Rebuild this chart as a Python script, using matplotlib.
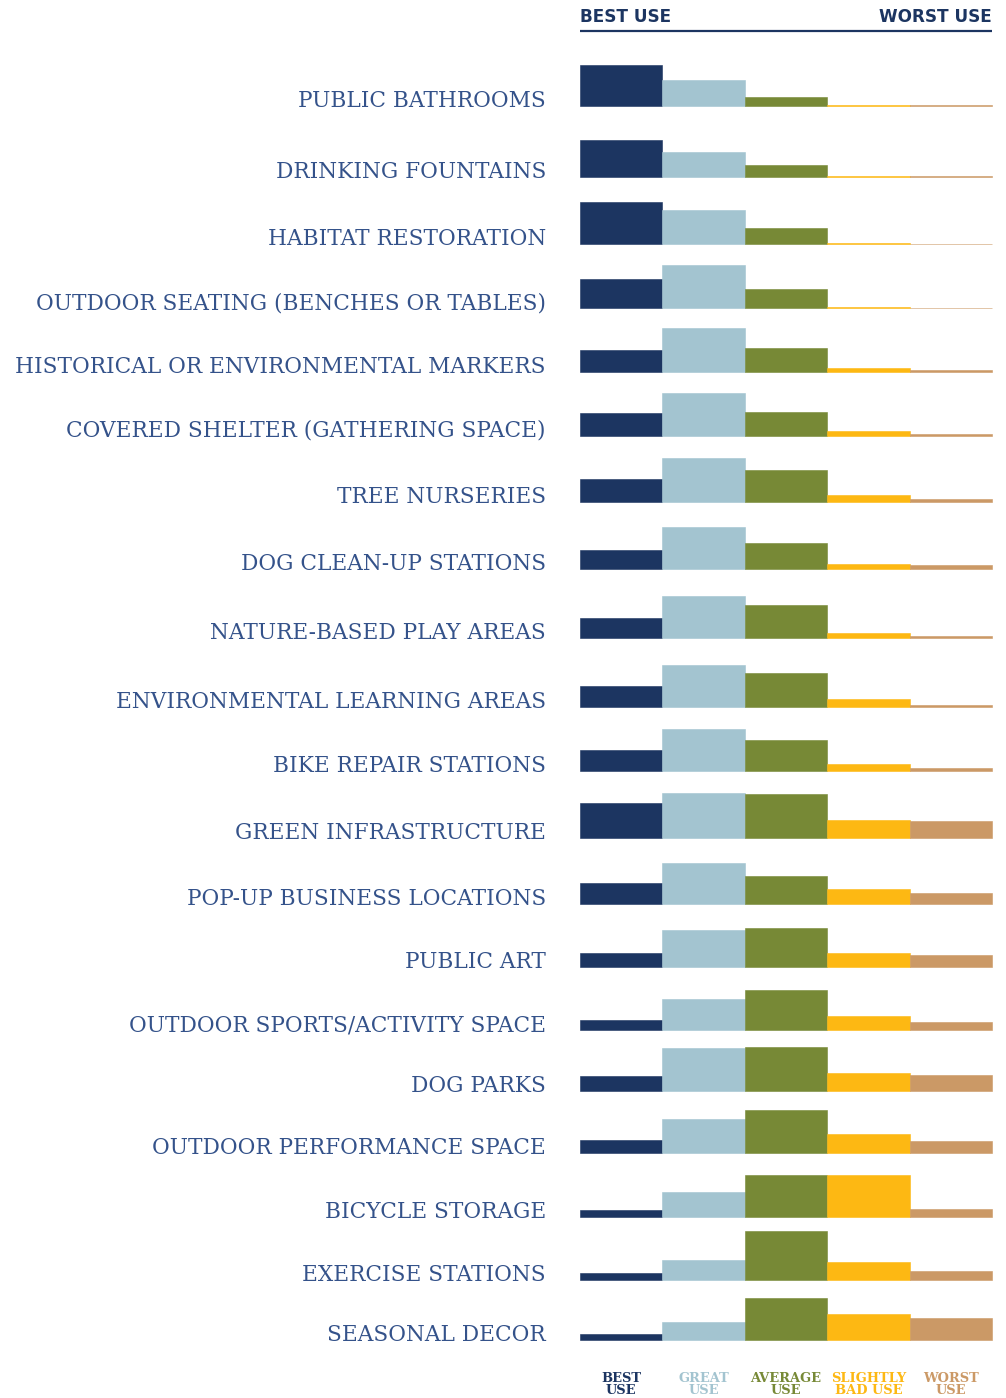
import matplotlib.pyplot as plt

# amenities, top to bottom
amenities = [
    "PUBLIC BATHROOMS", "DRINKING FOUNTAINS", "HABITAT RESTORATION",
    "OUTDOOR SEATING (BENCHES OR TABLES)", "HISTORICAL OR ENVIRONMENTAL MARKERS",
    "COVERED SHELTER (GATHERING SPACE)", "TREE NURSERIES", "DOG CLEAN-UP STATIONS",
    "NATURE-BASED PLAY AREAS", "ENVIRONMENTAL LEARNING AREAS", "BIKE REPAIR STATIONS",
    "GREEN INFRASTRUCTURE", "POP-UP BUSINESS LOCATIONS", "PUBLIC ART",
    "OUTDOOR SPORTS/ACTIVITY SPACE", "DOG PARKS", "OUTDOOR PERFORMANCE SPACE",
    "BICYCLE STORAGE", "EXERCISE STATIONS", "SEASONAL DECOR",
]

# response share per rating
best_use = [41, 37, 42, 29.3, 22, 22.3, 22.7, 18.3, 20.3, 20.7,
            21.3, 34.3, 21.3, 14, 10.7, 15, 13, 7, 6.7, 6.7]
great_use = [26, 24.6, 34, 43, 44, 42.7, 43.7, 41.7, 42.3, 41.3,
             42, 44.7, 41.3, 37.7, 31.3, 42.7, 33.7, 25.5, 20, 18.7]
average_use = [9, 12, 16, 19.7, 24, 23.7, 31.3, 25.7, 33.7, 33.7,
               31.3, 43.3, 28.7, 39.7, 40, 44, 42.7, 42.8, 48.7, 42.7]
slightly_bad_use = [1.1, 1, 1.2, 1.3, 3.5, 4.8, 6.5, 4.8, 5.5, 7.5,
                    7.5, 17.8, 15.5, 14.1, 14.5, 18.1, 18.8, 42.6, 18.1, 26.5]
worst_use = [0.7, 0.6, 0.5, 0.6, 1.8, 1.5, 2.8, 3.5, 2.8, 1.5,
             3.5, 17.1, 11.8, 12.8, 8.1, 15.5, 11.8, 8.8, 8.6, 22.1]

ratings = ["BEST\nUSE", "GREAT\nUSE", "AVERAGE\nUSE", "SLIGHTLY\nBAD USE", "WORST\nUSE"]
colors = ["#1c3561", "#a3c4d0", "#778936", "#fdb813", "#cb9966"]

# row baselines on the page (pixels from top)
row_base = [106, 177, 244.3, 308.3, 371.7, 435.7, 501.7, 568.7, 638.3, 706.7,
            771.3, 837.7, 904.3, 967.3, 1030.3, 1090.7, 1153, 1217.3, 1280, 1340.3]

series = [best_use, great_use, average_use, slightly_bad_use, worst_use]
x0, col_w = 580, 82.4
navy = "#1c3561"

fig = plt.figure(figsize=(10.06, 13.98), dpi=100)
ax = fig.add_axes([0, 0, 1, 1])
ax.set_xlim(0, 1006)
ax.set_ylim(1398, 0)
ax.axis("off")

for i, vals in enumerate(series):
    left = x0 + i * col_w
    ax.bar([left] * len(vals), [-v for v in vals], bottom=row_base, width=col_w,
           align="edge", color=colors[i], edgecolor=colors[i], linewidth=0.4)

for name, base in zip(amenities, row_base):
    ax.text(546, base + 1, name, ha="right", va="baseline", fontsize=15.6,
            family="DejaVu Serif", color="#34528a")

# header
ax.text(580, 22, "BEST USE", ha="left", va="baseline", fontsize=12.2,
        fontweight="bold", color=navy)
ax.text(992, 22, "WORST USE", ha="right", va="baseline", fontsize=12.2,
        fontweight="bold", color=navy)
ax.plot([580, 992], [30.5, 30.5], color=navy, lw=1.6, solid_capstyle="butt")

# column legend at the bottom
for i, lab in enumerate(ratings):
    ax.text(x0 + (i + 0.5) * col_w, 1394, lab, ha="center", va="baseline",
            fontsize=9.4, fontweight="bold", family="DejaVu Serif", color=colors[i],
            linespacing=0.95)

plt.savefig("out.png", dpi=100)
